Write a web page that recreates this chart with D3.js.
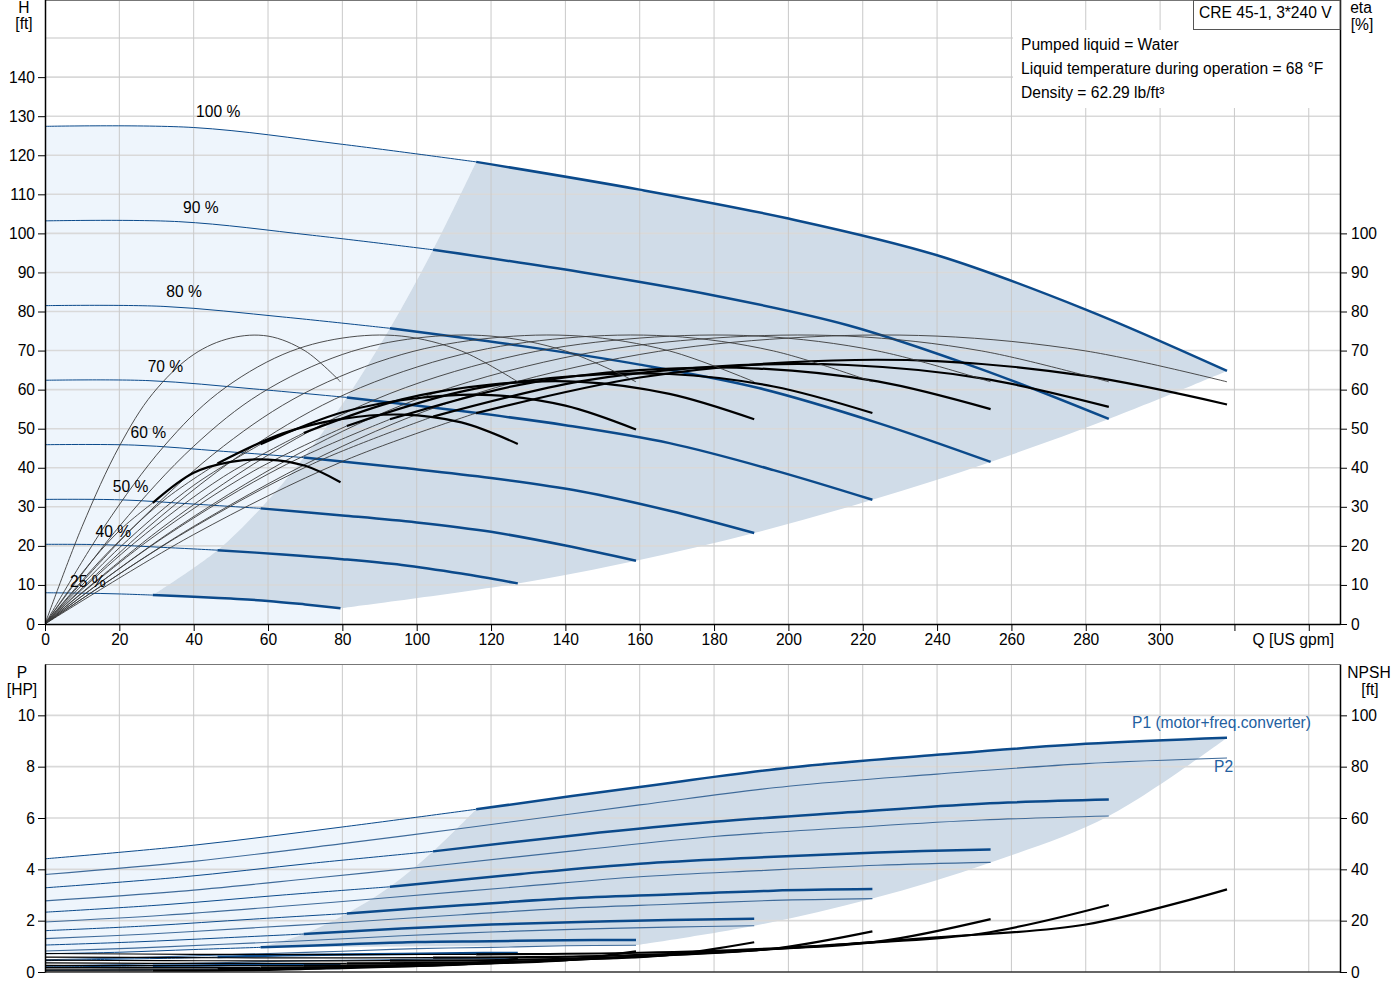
<!DOCTYPE html>
<html><head><meta charset="utf-8">
<script src="https://cdn.jsdelivr.net/npm/d3@7"></script>
<style>
body{margin:0;background:#fff}
svg{display:block}
text{font-family:"Liberation Sans",Arial,sans-serif;font-size:15.6px;fill:#000}
</style>
</head><body>
<svg id="c" width="1400" height="1000"></svg>
<script>
// ---------------- DATA ----------------
const speeds = ["100 %","90 %","80 %","70 %","60 %","50 %","40 %","25 %"];
const flowBySpeed = [
  [0,40,80,116,160,200,240,280,318],
  [0,36,72,104.4,144,180,216,252,286.2],
  [0,32,64,92.8,128,160,192,224,254.4],
  [0,28,56,81.2,112,140,168,196,222.6],
  [0,24,48,69.6,96,120,144,168,190.8],
  [0,20,40,58,80,100,120,140,159],
  [0,16,32,46.4,64,80,96,112,127.2],
  [0,10,20,29,40,50,60,70,79.5]
];
const headBySpeed = [
  [127.4,127.1,122.8,118.3,111.2,103.8,94.4,80.5,64.8],
  [103.2,103.0,99.5,95.8,90.1,84.1,76.5,65.2,52.5],
  [81.5,81.3,78.6,75.7,71.2,66.4,60.4,51.5,41.5],
  [62.4,62.3,60.2,58.0,54.5,50.9,46.3,39.4,31.8],
  [45.9,45.8,44.2,42.6,40.0,37.4,34.0,29.0,23.3],
  [31.9,31.8,30.7,29.6,27.8,26.0,23.6,20.1,16.2],
  [20.4,20.3,19.6,18.9,17.8,16.6,15.1,12.9,10.4],
  [8.0,7.9,7.7,7.4,7.0,6.5,5.9,5.0,4.05]
];
const etaPump = [0,25,45.5,59,69,73.2,73.7,69.9,62];
const etaTotalBySpeed = [
  [0,22.9,41.6,54.0,63.1,67.0,67.3,63.5,56.2],
  [0,22.5,41.0,53.1,62.1,65.9,66.3,62.9,55.6],
  [0,22.2,40.4,52.4,61.3,65.0,65.4,62.1,55.0],
  [0,21.5,39.1,50.7,59.5,63.3,64.0,60.8,54.0],
  [0,20.7,37.7,48.9,57.5,61.3,62.0,58.9,52.4],
  [0,19.5,35.5,46.0,54.2,57.8,58.6,55.9,49.8],
  [0,17.4,31.7,41.1,48.8,52.5,53.6,51.6,46.1],
  [0,13.1,23.9,31.0,38.7,41.5,42.1,40.5,36.3]
];
const p1BySpeed = [
  [4.41,4.94,5.65,6.34,7.21,7.96,8.46,8.89,9.13],
  [3.28,3.69,4.24,4.70,5.35,5.85,6.22,6.56,6.72],
  [2.33,2.62,3.00,3.32,3.82,4.22,4.46,4.66,4.77],
  [1.61,1.80,2.06,2.28,2.60,2.86,3.02,3.17,3.23],
  [1.05,1.17,1.33,1.48,1.69,1.85,1.95,2.03,2.07],
  [0.71,0.77,0.875,0.96,1.07,1.17,1.20,1.24,1.25],
  [0.44,0.49,0.53,0.58,0.65,0.68,0.70,0.73,0.74],
  [0.20,0.21,0.225,0.24,0.255,0.27,0.28,0.29,0.29]
];
const p2BySpeed = [
  [3.80,4.31,5.00,5.67,6.51,7.24,7.71,8.12,8.34],
  [2.77,3.14,3.65,4.13,4.75,5.28,5.62,5.92,6.08],
  [1.95,2.21,2.56,2.90,3.33,3.71,3.95,4.16,4.27],
  [1.30,1.48,1.72,1.94,2.23,2.48,2.64,2.79,2.86],
  [0.82,0.93,1.08,1.22,1.41,1.56,1.67,1.75,1.80],
  [0.48,0.54,0.63,0.71,0.81,0.91,0.96,1.02,1.04],
  [0.24,0.28,0.32,0.36,0.42,0.46,0.49,0.52,0.53],
  [0.06,0.07,0.08,0.09,0.10,0.11,0.12,0.13,0.13]
];
const npshBySpeed = [
  [7.2,6.9,6.8,6.9,7.5,9.5,13.5,18.5,32.2],
  [5.83,5.59,5.51,5.59,6.08,7.70,10.9,15.0,26.1],
  [4.61,4.42,4.35,4.42,4.80,6.08,8.64,11.8,20.6],
  [3.53,3.38,3.33,3.38,3.68,4.66,6.62,9.07,15.8],
  [2.59,2.48,2.45,2.48,2.70,3.42,4.86,6.66,11.6],
  [1.80,1.73,1.70,1.73,1.88,2.38,3.38,4.63,8.05],
  [1.15,1.10,1.09,1.10,1.20,1.52,2.16,2.96,5.15],
  [0.45,0.43,0.43,0.43,0.47,0.59,0.84,1.16,2.01]
];
const qTicks = [0,20,40,60,80,100,120,140,160,180,200,220,240,260,280,300,320,340];
const qTickLabels = ["0","20","40","60","80","100","120","140","160","180","200","220","240","260","280","300","",""];
const hTicks = [0,10,20,30,40,50,60,70,80,90,100,110,120,130,140];
const hGrid = [10,20,30,40,50,60,70,80,90,100,110,120,130,140,150];
const etaTicks = [0,10,20,30,40,50,60,70,80,90,100];
const pTicks = [0,2,4,6,8,10];
const npshTicks = [0,20,40,60,80,100];
const infoLines = ["Pumped liquid = Water","Liquid temperature during operation = 68 °F","Density = 62.29 lb/ft³"];
const titleText = "CRE 45-1, 3*240 V";

// ---------------- LAYOUT ----------------
const BLUE = "#0b4a8b", BLUE_T = "#3f6b9a", LIGHT = "#eef5fc", DARK = "#d0dce8";
const X0 = 45, X1 = 1340;
const CURVE = d3.curveCatmullRom.alpha(0.5);
const labelAt = [46.6,41.9,37.4,32.4,27.8,23,18.4,11.5];
const labelLift = [13.5,11,11,10,8.5,8,8,6.5];
const svg = d3.select("#c");
const x = d3.scaleLinear().domain([0,348.4]).range([X0,X1]);
const yH = d3.scaleLinear().domain([0,160]).range([624,-1]);
const yP = d3.scaleLinear().domain([0,12]).range([972,664]);
const yN = d3.scaleLinear().domain([0,120]).range([972,664]);

const defs = svg.append("defs");
defs.append("clipPath").attr("id","clipTop").append("rect").attr("x",X0).attr("y",0).attr("width",X1-X0).attr("height",624);
defs.append("clipPath").attr("id","clipBot").append("rect").attr("x",X0).attr("y",664).attr("width",X1-X0).attr("height",308);

const pts = (xs, ys, i0, i1) => xs.slice(i0, i1+1).map((v,i)=>[v, ys[i0+i]]);
function segPath(points, ys, curve){
  return d3.line().x(d=>x(d[0])).y(d=>ys(d[1])).curve(curve||CURVE)(points);
}
function joinSegs(segs){ return segs.map((s,i)=> i ? s.replace(/^M/,"L") : s).join("") + "Z"; }

// ---------- TOP CHART ----------
const gTop = svg.append("g").attr("clip-path","url(#clipTop)");
const nS = speeds.length, last = 8;
const leftBoundTop = flowBySpeed.map((f,s)=>[f[3], headBySpeed[s][3]]);
const rightBoundTop = flowBySpeed.map((f,s)=>[f[last], headBySpeed[s][last]]);
const lightTop = joinSegs([
  segPath([[0,0],[0,headBySpeed[0][0]]], yH, d3.curveLinear),
  segPath(pts(flowBySpeed[0], headBySpeed[0], 0, 3), yH),
  segPath(leftBoundTop, yH),
  segPath(pts(flowBySpeed[nS-1], headBySpeed[nS-1], 3, last), yH),
  segPath([[flowBySpeed[nS-1][last], headBySpeed[nS-1][last]],[flowBySpeed[nS-1][last],0]], yH, d3.curveLinear)
]);
gTop.append("path").attr("d", lightTop).attr("fill", LIGHT);
const darkTop = joinSegs([
  segPath(pts(flowBySpeed[0], headBySpeed[0], 3, last), yH),
  segPath(rightBoundTop, yH),
  segPath(pts(flowBySpeed[nS-1], headBySpeed[nS-1], 3, last).reverse(), yH),
  segPath(leftBoundTop.slice().reverse(), yH)
]);
gTop.append("path").attr("d", darkTop).attr("fill", DARK);

// grid top
gTop.selectAll("line.hg").data(hGrid).join("line")
  .attr("x1",X0).attr("x2",X1).attr("y1",d=>yH(d)).attr("y2",d=>yH(d))
  .attr("stroke","#d9d9d9").attr("stroke-width",1.6);
gTop.selectAll("line.vg").data(qTicks.slice(1)).join("line")
  .attr("x1",d=>x(d)).attr("x2",d=>x(d)).attr("y1",0).attr("y2",624)
  .attr("stroke","#c9c9c9").attr("stroke-width",1);

// info box (white background hides grid)
svg.append("rect").attr("x",1013).attr("y",30).attr("width",X1-1013).attr("height",78).attr("fill","#fff");

// line through all points of a series (full or sliced by index)
const lineTop = (xs, ys) => d3.line().x(d=>x(d[0])).y(d=>yH(d[1])).curve(CURVE)(xs.map((v,i)=>[v, ys[i]]));
// thin segment drawn as part of the full curve so the split joins smoothly
function splitPaths(g, xs, ys, sc, thin, thick){
  const full = xs.map((v,i)=>[v, ys[i]]);
  const line = d3.line().x(d=>x(d[0])).y(d=>sc(d[1])).curve(CURVE);
  g.append("path").attr("d", line(full.slice(0,4))).attr("fill","none").attr("stroke",thin.c).attr("stroke-width",thin.w);
  g.append("path").attr("d", line(full.slice(3))).attr("fill","none").attr("stroke",thick.c).attr("stroke-width",thick.w);
}

// QH curves
speeds.forEach((sp,s)=>{
  splitPaths(gTop, flowBySpeed[s], headBySpeed[s], yH, {c:BLUE,w:1}, {c:BLUE,w:2.5});
});
// pump efficiency (thin) and total efficiency
speeds.forEach((sp,s)=>{
  gTop.append("path").attr("d", lineTop(flowBySpeed[s], etaPump)).attr("fill","none").attr("stroke","#3a3a3a").attr("stroke-width",0.9);
  splitPaths(gTop, flowBySpeed[s], etaTotalBySpeed[s], yH, {c:"#3a3a3a",w:0.9}, {c:"#000",w:2.2});
});
// speed labels
speeds.forEach((sp,s)=>{
  const interp = d3.scaleLinear().domain(flowBySpeed[s]).range(headBySpeed[s]);
  svg.append("text").attr("x", x(labelAt[s])).attr("y", yH(interp(labelAt[s])) - labelLift[s])
    .attr("text-anchor","middle").text(sp);
});

// frame top
svg.append("line").attr("x1",X0).attr("x2",X1).attr("y1",0.5).attr("y2",0.5).attr("stroke","#777").attr("stroke-width",1);
function styleAxis(g){
  g.attr("font-family",null).attr("font-size",null);
  g.select(".domain").attr("stroke","#000").attr("stroke-width",1.5);
  g.selectAll(".tick line").attr("stroke","#000").attr("stroke-width",1);
  g.selectAll("text").attr("fill","#000");
}
svg.append("g").attr("transform","translate(0,624)")
  .call(d3.axisBottom(x).tickValues(qTicks).tickFormat((d,i)=>qTickLabels[i]).tickSize(7).tickPadding(3).tickSizeOuter(0))
  .call(styleAxis);
svg.append("g").attr("transform",`translate(${X0},0)`)
  .call(d3.axisLeft(yH).tickValues(hTicks).tickSize(7).tickPadding(3).tickSizeOuter(0))
  .call(styleAxis);
svg.append("g").attr("transform",`translate(${X1},0)`)
  .call(d3.axisRight(yH).tickValues(etaTicks).tickSize(7).tickPadding(4).tickSizeOuter(0))
  .call(styleAxis);

svg.append("text").attr("x",1334).attr("y",645).attr("text-anchor","end").text("Q [US gpm]");
svg.append("text").attr("x",24).attr("y",12.5).attr("text-anchor","middle").text("H");
svg.append("text").attr("x",24).attr("y",29).attr("text-anchor","middle").text("[ft]");
svg.append("text").attr("x",1361).attr("y",13).attr("text-anchor","middle").text("eta");
svg.append("text").attr("x",1362).attr("y",30).attr("text-anchor","middle").text("[%]");

// title box
svg.append("rect").attr("x",1193.5).attr("y",0.5).attr("width",X1-1193.5).attr("height",29).attr("fill","#fff").attr("stroke","#555").attr("stroke-width",1);
svg.append("text").attr("x",1199).attr("y",17.5).text(titleText);
infoLines.forEach((t,i)=>svg.append("text").attr("x",1021).attr("y",50+24*i).text(t));

// ---------- BOTTOM CHART ----------
const gBot = svg.append("g").attr("clip-path","url(#clipBot)");
const lbP = flowBySpeed.slice(0,6).map((f,s)=>[f[3], p1BySpeed[s][3]]);
const lightBot = joinSegs([
  segPath([[0,p1BySpeed[5][0]],[0,p1BySpeed[0][0]]], yP, d3.curveLinear),
  segPath(pts(flowBySpeed[0], p1BySpeed[0], 0, 3), yP),
  segPath(lbP, yP),
  segPath(pts(flowBySpeed[5], p1BySpeed[5], 0, 3).reverse(), yP)
]);
gBot.append("path").attr("d", lightBot).attr("fill", LIGHT);
const rbP = [[flowBySpeed[0][last], p1BySpeed[0][last]]].concat(flowBySpeed.slice(1,6).map((f,s)=>[f[last], p2BySpeed[s+1][last]]));
const darkBot = joinSegs([
  segPath(pts(flowBySpeed[0], p1BySpeed[0], 3, last), yP),
  segPath(rbP, yP),
  segPath([rbP[rbP.length-1], lbP[5]], yP, d3.curveLinear),
  segPath(lbP.slice().reverse(), yP)
]);
gBot.append("path").attr("d", darkBot).attr("fill", DARK);

gBot.selectAll("line.hg").data(pTicks.slice(1)).join("line")
  .attr("x1",X0).attr("x2",X1).attr("y1",d=>yP(d)).attr("y2",d=>yP(d))
  .attr("stroke","#d9d9d9").attr("stroke-width",1.6);
gBot.selectAll("line.vg").data(qTicks.slice(1)).join("line")
  .attr("x1",d=>x(d)).attr("x2",d=>x(d)).attr("y1",664).attr("y2",972)
  .attr("stroke","#c9c9c9").attr("stroke-width",1);

const lineBot = (xs, ys, sc) => d3.line().x(d=>x(d[0])).y(d=>sc(d[1])).curve(CURVE)(xs.map((v,i)=>[v, ys[i]]));
speeds.forEach((sp,s)=>{
  gBot.append("path").attr("d", lineBot(flowBySpeed[s], p2BySpeed[s], yP)).attr("fill","none").attr("stroke",BLUE_T).attr("stroke-width",1.1);
});
speeds.forEach((sp,s)=>{
  splitPaths(gBot, flowBySpeed[s], p1BySpeed[s], yP, {c:BLUE,w:1}, {c:BLUE,w:2.5});
});
speeds.forEach((sp,s)=>{
  splitPaths(gBot, flowBySpeed[s], npshBySpeed[s], yN, {c:"#000",w:1.2}, {c:"#000",w:2.2});
});

svg.append("line").attr("x1",X0).attr("x2",X1).attr("y1",664.5).attr("y2",664.5).attr("stroke","#777").attr("stroke-width",1);
svg.append("line").attr("x1",X0).attr("x2",X1).attr("y1",972).attr("y2",972).attr("stroke","#333").attr("stroke-width",1.5);
svg.append("g").attr("transform",`translate(${X0},0)`)
  .call(d3.axisLeft(yP).tickValues(pTicks).tickSize(7).tickPadding(3).tickSizeOuter(0))
  .call(styleAxis);
svg.append("g").attr("transform",`translate(${X1},0)`)
  .call(d3.axisRight(yN).tickValues(npshTicks).tickSize(7).tickPadding(4).tickSizeOuter(0))
  .call(styleAxis);

svg.append("text").attr("x",22).attr("y",678).attr("text-anchor","middle").text("P");
svg.append("text").attr("x",22).attr("y",695).attr("text-anchor","middle").text("[HP]");
svg.append("text").attr("x",1369).attr("y",678).attr("text-anchor","middle").text("NPSH");
svg.append("text").attr("x",1370).attr("y",695).attr("text-anchor","middle").text("[ft]");
svg.append("text").attr("x",1132).attr("y",728).style("fill","#2360a0").text("P1 (motor+freq.converter)");
svg.append("text").attr("x",1214).attr("y",772).style("fill","#2360a0").text("P2");
</script>
</body></html>
